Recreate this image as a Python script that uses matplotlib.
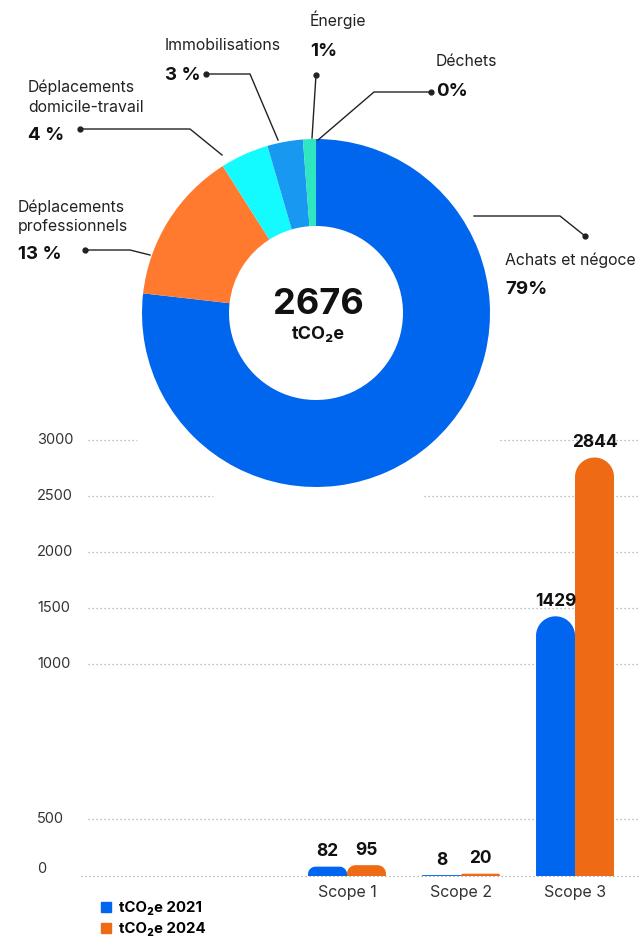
import numpy as np
import matplotlib
matplotlib.use('Agg')
import matplotlib.pyplot as plt
from matplotlib.patches import Polygon, Circle, Patch
from matplotlib.lines import Line2D
from matplotlib.transforms import IdentityTransform

plt.rcParams['font.family'] = ['Inter', 'DejaVu Sans']

# ---------------- data ----------------
pie_categories = ['Achats et négoce', 'Déplacements professionnels',
                  'Déplacements domicile-travail', 'Immobilisations',
                  'Énergie', 'Déchets']
pie_shares = [76.8, 14.2, 4.5, 3.3, 1.2, 0.0]
pie_pct_labels = ['79%', '13 %', '4 %', '3 %', '1%', '0%']
pie_colors = ['#0066EE', '#FF7A2E', '#14FBFF', '#1898F0', '#2EE6BF', '#9a9a9a']
total_value = '2676'
total_unit = 'tCO₂e'

scopes = ['Scope 1', 'Scope 2', 'Scope 3']
values_2021 = [82, 8, 1429]
values_2024 = [95, 20, 2844]
series_names = ['tCO₂e 2021', 'tCO₂e 2024']
bar_colors = ['#0066F0', '#EE6A15']
yticks = [0, 500, 1000, 1500, 2000, 2500, 3000]

# ---------------- figure ----------------
W, H = 640, 940
fig = plt.figure(figsize=(W / 100, H / 100), dpi=100)
fig.patch.set_facecolor('white')


def fx(x):
    return x / W


def fy(y):
    return 1 - y / H


# ---------------- bar chart ----------------
ax = fig.add_axes([fx(88), fy(876), (640 - 88) / W, (876 - 440) / H])
ax.set_zorder(0)

_v = np.array([-3000, 0, 500, 1000, 3000, 6000], float)
_p = np.array([-342, 0, 57, 211.7, 436.3, 773.2])


def fwd(v):
    return np.interp(v, _v, _p)


def inv(p):
    return np.interp(p, _p, _v)


ax.set_yscale('function', functions=(fwd, inv))
XL = (-2.272, 2.570)
ax.set_xlim(*XL)
ax.set_ylim(0, 3000)
for s in ax.spines.values():
    s.set_visible(False)

x = np.arange(len(scopes))
w = 0.342
b1 = ax.bar(x - w / 2, values_2021, w, color=bar_colors[0])
b2 = ax.bar(x + w / 2, values_2024, w, color=bar_colors[1])
ax.set_xlim(*XL)
ax.set_ylim(0, 3000)
ax.set_autoscale_on(False)

for v in yticks:
    ax.axhline(v, xmin=(-7 / 552 if v == 0 else 0), xmax=1, color='#a8a8a8',
               lw=0.9, ls=(0, (1, 2.2)), clip_on=False, zorder=0)
    ax.annotate(f'{v}', xy=(0, v), xycoords=ax.get_yaxis_transform(),
                xytext=(-51 * 0.72, (7 if v == 0 else 0) * 0.72),
                textcoords='offset points', ha='left', va='center',
                fontsize=10.5, color='#333333', annotation_clip=False)
ax.set_yticks([])
ax.set_xticks(x, scopes)
ax.tick_params(axis='x', length=0, pad=6.5, labelsize=11.5, labelcolor='#333333')


def round_top(rect, color):
    x0 = rect.get_x()
    x1 = x0 + rect.get_width()
    h = rect.get_height()
    (px0, py0), (px1, py1) = ax.transData.transform([(x0, 0), (x1, h)])
    wpx = px1 - px0
    hpx = py1 - py0
    r = min(wpx / 2, hpx * 0.8)
    t = np.linspace(0, np.pi / 2, 24)
    right = np.column_stack([px1 - r + r * np.cos(t), py1 - r + r * np.sin(t)])
    left = np.column_stack([px0 + r - r * np.sin(t), py1 - r + r * np.cos(t)])
    pts = np.vstack([[px0, py0], [px1, py0], right, left])
    poly = Polygon(pts, closed=True, transform=IdentityTransform(),
                   facecolor=color, edgecolor='none', clip_on=False, zorder=2)
    ax.add_artist(poly)
    rect.set_visible(False)


for cont, col in [(b1, bar_colors[0]), (b2, bar_colors[1])]:
    for rect in cont:
        round_top(rect, col)

for xs, vals in [(x - w / 2, values_2021), (x + w / 2, values_2024)]:
    for xi, v in zip(xs, vals):
        ax.annotate(f'{v}', xy=(xi, v), xytext=(0, 4.5), textcoords='offset points',
                    ha='center', va='bottom', fontsize=12.5, fontweight='bold',
                    color='#111111', annotation_clip=False)

fig.legend(handles=[Patch(color=bar_colors[0]), Patch(color=bar_colors[1])],
           labels=series_names, loc='upper left',
           bbox_to_anchor=(fx(101), fy(901)), frameon=False,
           handlelength=0.65, handleheight=0.65, handletextpad=0.55,
           labelspacing=0.5, borderpad=0, borderaxespad=0,
           prop=dict(weight='bold', size=10.8))

# ---------------- white mask behind donut ----------------
mask = Circle((318, H - 275), 245, transform=IdentityTransform(),
              facecolor='white', edgecolor='none', zorder=1)
fig.add_artist(mask)

# ---------------- donut ----------------
cx, cy, R = 316, 313, 174
pax = fig.add_axes([fx(cx - R), fy(cy + R), 2 * R / W, 2 * R / H])
pax.set_zorder(2)
pax.pie(pie_shares, colors=pie_colors, startangle=90, counterclock=False,
        radius=1, wedgeprops=dict(width=0.5, linewidth=0))
pax.set_xlim(-1, 1)
pax.set_ylim(-1, 1)
pax.axis('off')

fig.text(fx(318), fy(305), total_value, ha='center', va='center',
         fontsize=26, fontweight='bold', color='#111111', zorder=5)
fig.text(fx(318), fy(334), total_unit, ha='center', va='center',
         fontsize=13, fontweight='bold', color='#111111', zorder=5)

# ---------------- labels + leader lines ----------------
name_style = dict(ha='left', va='center', fontsize=11.4, color='#222222', zorder=5)
pct_style = dict(ha='left', va='center', fontsize=13.5, fontweight='bold',
                 color='#111111', zorder=5)

label_layout = [
    # name lines (x, [y...]), pct (x, y), leader polyline
    (505, [260], (505, 290), [(585, 236), (560, 216), (474, 216)]),
    (18, [207, 226], (18, 255), [(85, 250), (130, 250), (150, 255)]),
    (28, [87, 107], (28, 135), [(80, 129), (190, 129), (222, 155)]),
    (165, [45], (165, 75), [(206, 74), (250, 74), (278, 140)]),
    (310, [20], (310, 52), [(316, 75), (312, 138)]),
    (436, [62], (436, 92), [(431, 92), (374, 92), (318, 140)]),
]
name_lines = [['Achats et négoce'],
              ['Déplacements', 'professionnels'],
              ['Déplacements', 'domicile-travail'],
              ['Immobilisations'],
              ['Énergie'],
              ['Déchets']]

for (nx, nys, (px_, py_), pts), lines, pct in zip(label_layout, name_lines, pie_pct_labels):
    for ly, txt in zip(nys, lines):
        fig.text(fx(nx), fy(ly), txt, **name_style)
    fig.text(fx(px_), fy(py_), pct, **pct_style)
    xs = [fx(p[0]) for p in pts]
    ys = [fy(p[1]) for p in pts]
    fig.add_artist(Line2D(xs, ys, transform=fig.transFigure, color='#222222',
                          lw=1.0, zorder=4))
    fig.add_artist(Line2D([xs[0]], [ys[0]], transform=fig.transFigure,
                          marker='o', ms=3.5, color='#222222', zorder=4))

fig.savefig('out.png', dpi=100, facecolor='white')
